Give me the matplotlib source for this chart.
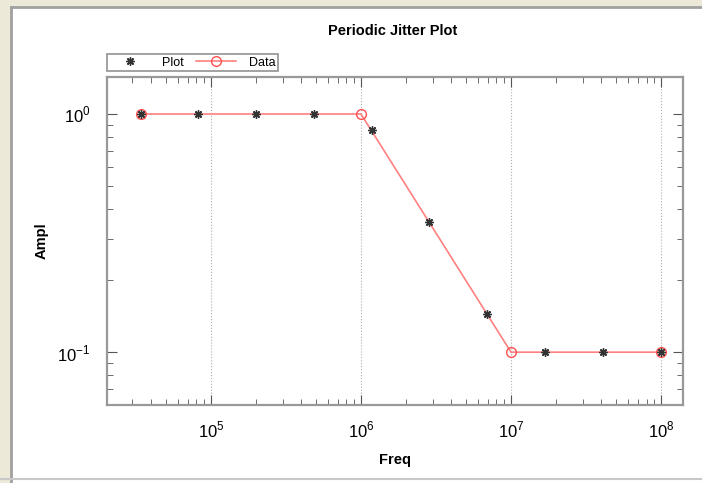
import numpy as np
import matplotlib.pyplot as plt
from matplotlib.patches import Rectangle
from matplotlib.lines import Line2D

# values
plot_freq = [3.4e4, 8.2e4, 2.0e5, 4.9e5, 1.18e6, 2.84e6, 6.9e6, 1.69e7, 4.1e7, 1.0e8]
plot_ampl = [1.0, 1.0, 1.0, 1.0, 0.857, 0.352, 0.144, 0.1, 0.1, 0.1]
data_freq = [3.4e4, 1.0e6, 1.0e7, 1.0e8]
data_ampl = [1.0, 1.0, 0.1, 0.1]
xticks = [1e5, 1e6, 1e7, 1e8]
xticklabels = ['$10^5$', '$10^6$', '$10^7$', '$10^8$']
yticks = [1e-1, 1e0]
yticklabels = ['$10^{-1}$', '$10^0$']

plt.rcParams['font.family'] = ['Liberation Sans', 'DejaVu Sans']
plt.rcParams['mathtext.fontset'] = 'custom'
plt.rcParams['mathtext.rm'] = 'Liberation Sans'

W, H = 702, 483
fig = plt.figure(figsize=(W / 100, H / 100), dpi=100)
fig.patch.set_facecolor('white')

# window-ish frame: beige strips on left/top, grey lines
fig.patches.append(Rectangle((0, 0), 10 / W, 1, transform=fig.transFigure, color='#ECE9D8', zorder=0))
fig.patches.append(Rectangle((0, 1 - 6 / H), 1, 6 / H, transform=fig.transFigure, color='#ECE9D8', zorder=0))
fig.add_artist(Line2D([11 / W, 11 / W], [0, 1 - 7 / H], transform=fig.transFigure, color='#a0a0a0', lw=2))
fig.add_artist(Line2D([11 / W, 1], [1 - 7 / H, 1 - 7 / H], transform=fig.transFigure, color='#a0a0a0', lw=2))
fig.add_artist(Line2D([0, 1], [4 / H, 4 / H], transform=fig.transFigure, color='#c8c8c8', lw=1.5))

ax = fig.add_axes([107 / W, 1 - 405 / H, (683 - 107) / W, (405 - 77) / H])
ax.set_xscale('log')
ax.set_yscale('log')
ax.set_xlim(2.03e4, 1.4e8)
ax.set_ylim(0.06, 1.43)

ax.plot(data_freq, data_ampl, color='#ff8080', lw=1.2, marker='o', ms=7,
        mfc='none', mec='#ff5050', mew=1.0, zorder=2, label='Data')
ax.plot(plot_freq, plot_ampl, ls='none', marker=(8, 2, 0), ms=6, color='#333333',
        mew=1.0, zorder=3, label='Plot')

ax.set_xticks(xticks)
ax.set_xticklabels(xticklabels, fontsize=12)
ax.set_yticks(yticks)
ax.set_yticklabels(yticklabels, fontsize=12)
ax.tick_params(which='both', direction='in', top=True, right=True, color='#555555')
ax.tick_params(axis='x', which='major', length=7, pad=11)
ax.tick_params(axis='y', which='major', length=7, pad=12)
ax.tick_params(which='minor', length=4)
ax.grid(True, axis='x', which='major', ls=':', color='#b0b0b0', lw=0.8)
for s in ax.spines.values():
    s.set_color('#999999')
    s.set_linewidth(1.6)

ax.set_xlabel('Freq', fontsize=10.5, fontweight='bold', labelpad=9)
ax.set_ylabel('Ampl', fontsize=10.5, fontweight='bold', labelpad=6)
fig.text(393 / W, 1 - 31 / H, 'Periodic Jitter Plot', ha='center', va='center',
         fontsize=10.5, fontweight='bold')

h, l = ax.get_legend_handles_labels()
leg = fig.legend(h[::-1], l[::-1], ncol=2, loc='lower left',
                 bbox_to_anchor=(107 / W, 1 - 71 / H), fontsize=9, frameon=True,
                 fancybox=False, borderpad=0.2, handlelength=3.2, columnspacing=1.0,
                 handletextpad=1.0, borderaxespad=0)
leg.get_frame().set_edgecolor('#777777')
leg.get_frame().set_linewidth(1.2)

fig.savefig('out.png', dpi=100)
